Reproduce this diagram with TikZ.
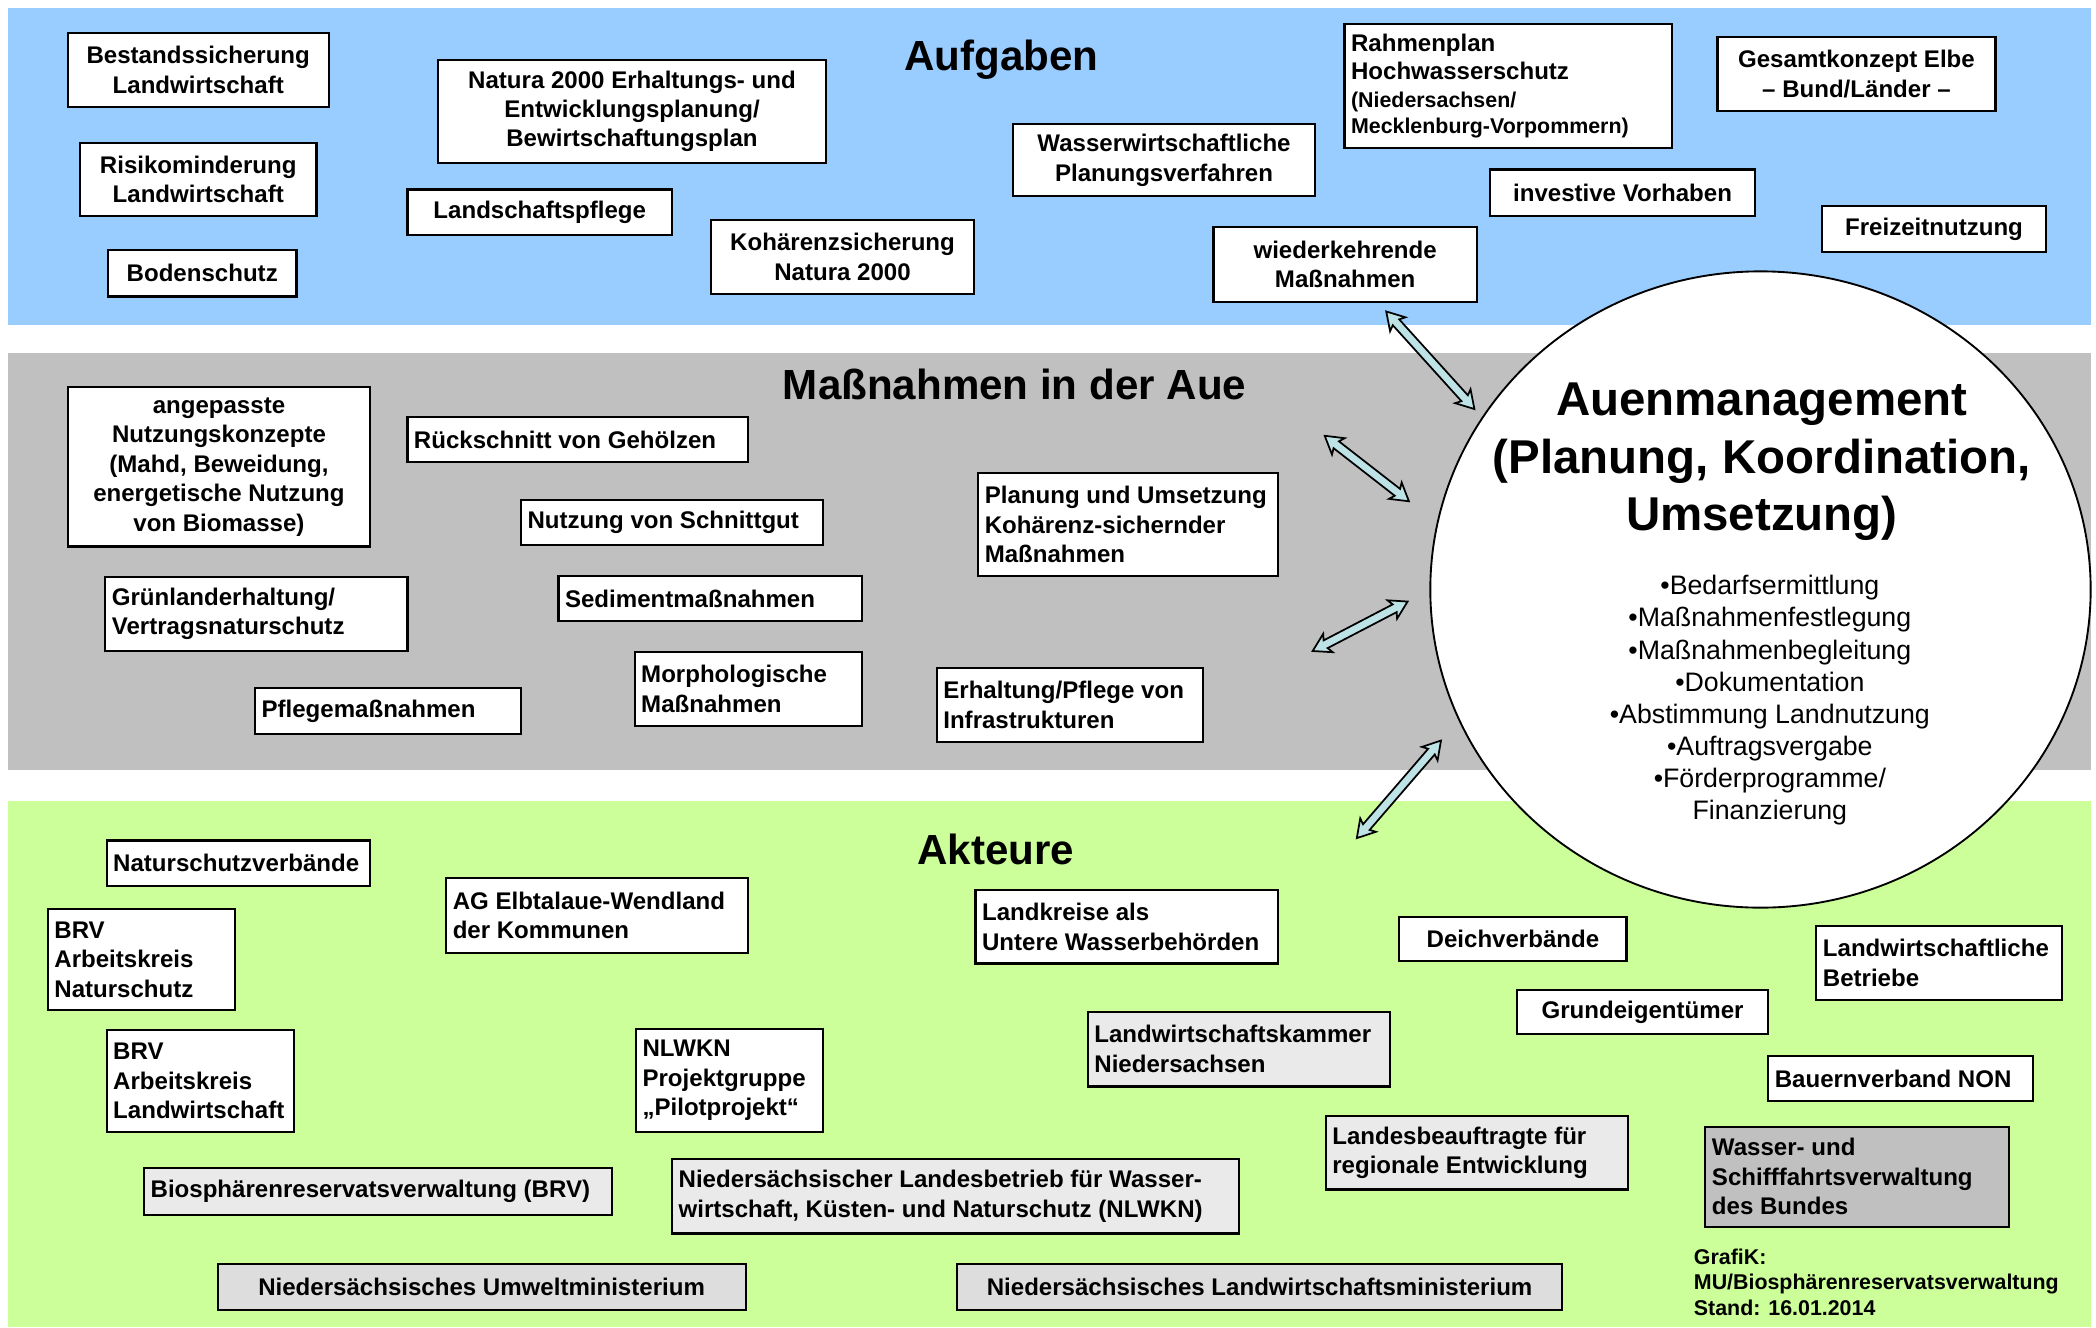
\documentclass[tikz,border=0pt]{standalone}
\usepackage{fontspec}
\setmainfont{Liberation Sans}
\usetikzlibrary{shapes.geometric,shapes.arrows,calc}
\definecolor{bandblue}{RGB}{153,204,255}
\definecolor{bandgray}{RGB}{192,192,192}
\definecolor{bandgreen}{RGB}{204,255,153}
\definecolor{boxlight}{RGB}{234,234,234}
\definecolor{boxmid}{RGB}{221,221,221}
\definecolor{boxdark}{RGB}{192,192,192}
\definecolor{arrowfill}{RGB}{189,227,230}
\tikzset{
  boxw/.style={draw=black, line width=1.6pt, fill=white, inner sep=0pt},
  boxl/.style={boxw, fill=boxlight},
  boxm/.style={boxw, fill=boxmid},
  boxd/.style={boxw, fill=boxdark},
  btxt/.style={font=\bfseries\fontsize{18}{22}\selectfont, inner sep=0pt},
  bandtitle/.style={font=\bfseries\fontsize{31.5}{38}\selectfont, inner sep=0pt, anchor=base},
  amtitle/.style={font=\bfseries\fontsize{35.5}{43}\selectfont, inner sep=0pt, anchor=base},
  amitem/.style={font=\fontsize{20}{24}\selectfont, inner sep=0pt, anchor=base},
  credit/.style={font=\bfseries\fontsize{16}{19}\selectfont, inner sep=0pt, anchor=base west},
  dblarrow/.style={double arrow, draw=black, fill=arrowfill, line width=1.3pt,
    inner xsep=0pt, inner ysep=2.6pt, minimum width=0pt,
    double arrow head extend=4.5pt, double arrow tip angle=62,
    double arrow head indent=2pt},
}
% centered box
\newcommand\bxc[7]{%
  \node[#6, btxt, align=center, minimum width={(#4-#2)*1pt}, minimum height={(#5-#3)*1pt}, anchor=north west] (#1) at (#2,#3) {#7};}
% left-aligned box
\newcommand\bxl[7]{%
  \node[#6, minimum width={(#4-#2)*1pt}, minimum height={(#5-#3)*1pt}, anchor=north west] (#1) at (#2,#3) {};
  \node[btxt, align=left, anchor=west] (#1t) at ([xshift=5.5pt]#1.west) {#7};}
\newcommand\dblarr[3]{%
  \path let \p1=($(#3)-(#2)$), \n1={atan2(\y1,\x1)}, \n2={veclen(\x1,\y1)} in
    node[dblarrow, rotate=\n1, minimum height=\n2] (#1) at ($(#2)!0.5!(#3)$) {};}
\begin{document}
\begin{tikzpicture}[x=1pt,y=-1pt]
\useasboundingbox (0,0) rectangle (1568,993);
% bands
\fill[bandblue] (6,6) rectangle (1564,243);
\fill[bandgray] (6,264) rectangle (1564,576);
\fill[bandgreen] (6,599) rectangle (1564,993);
% titles
\node[bandtitle] (tAuf) at (749,53) {Aufgaben};
\node[bandtitle] (tMas) at (759,299) {Maßnahmen in der Aue};
\node[bandtitle] (tAkt) at (745,647) {Akteure};
% Aufgaben
\bxc{b1}{50}{24}{245}{79}{boxw}{Bestandssicherung\\Landwirtschaft}
\bxc{b2}{59}{106}{236}{161}{boxw}{Risikominderung\\Landwirtschaft}
\bxc{b3}{80}{186}{221}{221}{boxw}{Bodenschutz}
\bxc{b4}{327}{44}{617}{121}{boxw}{Natura 2000 Erhaltungs- und\\Entwicklungsplanung/\\Bewirtschaftungsplan}
\bxc{b5}{304}{141}{502}{175}{boxw}{Landschaftspflege}
\bxc{b6}{531}{164}{728}{219}{boxw}{Kohärenzsicherung\\Natura 2000}
\bxc{b7}{757}{92}{983}{146}{boxw}{Wasserwirtschaftliche\\Planungsverfahren}
\bxl{b8}{1005}{17}{1250}{110}{boxw}{Rahmenplan\\[-1pt]Hochwasserschutz\\[-1pt]{\fontsize{16}{19}\selectfont(Niedersachsen/}\\[-3pt]{\fontsize{16}{19}\selectfont Mecklenburg-Vorpommern)}}
\bxc{b9}{1284}{27}{1492}{82}{boxw}{Gesamtkonzept Elbe\\– Bund/Länder –}
\bxc{b10}{1114}{126}{1312}{161}{boxw}{investive Vorhaben}
\bxc{b11}{1362}{153}{1530}{188}{boxw}{Freizeitnutzung}
\bxc{b12}{907}{169}{1104}{225}{boxw}{wiederkehrende\\Maßnahmen}
% Massnahmen
\bxc{g1}{50}{289}{276}{408}{boxw}{angepasste\\Nutzungskonzepte\\(Mahd, Beweidung,\\energetische Nutzung\\von Biomasse)}
\bxl{g2}{304}{311}{559}{345}{boxw}{Rückschnitt von Gehölzen}
\bxl{g3}{389}{373}{615}{407}{boxw}{Nutzung von Schnittgut}
\bxl{g4}{78}{431}{304}{486}{boxw}{Grünlanderhaltung/\\Vertragsnaturschutz}
\bxl{g5}{417}{430}{644}{464}{boxw}{Sedimentmaßnahmen}
\bxl{g6}{190}{514}{389}{548}{boxw}{Pflegemaßnahmen}
\bxl{g7}{474}{487}{644}{542}{boxw}{Morphologische\\Maßnahmen}
\bxl{g8}{731}{353}{955}{430}{boxw}{Planung und Umsetzung\\Kohärenz-sichernder\\Maßnahmen}
\bxl{g9}{700}{499}{899}{554}{boxw}{Erhaltung/Pflege von\\Infrastrukturen}
% Akteure
\bxl{k1}{79}{628}{276}{662}{boxw}{Naturschutzverbände}
\bxl{k2}{35}{679}{175}{755}{boxw}{BRV\\Arbeitskreis\\Naturschutz}
\bxl{k3}{333}{656}{559}{712}{boxw}{AG Elbtalaue-Wendland\\der Kommunen}
\bxl{k4}{79}{770}{219}{846}{boxw}{BRV\\Arbeitskreis\\Landwirtschaft}
\bxl{k5}{475}{769}{615}{846}{boxw}{NLWKN\\Projektgruppe\\„Pilotprojekt“}
\bxl{k6}{107}{873}{457}{908}{boxl}{Biosphärenreservatsverwaltung (BRV)}
\bxl{k7}{502}{866}{926}{922}{boxl}{Niedersächsischer Landesbetrieb für Wasser-\\wirtschaft, Küsten- und Naturschutz (NLWKN)}
\bxc{k8}{162}{945}{557}{979}{boxm}{Niedersächsisches Umweltministerium}
\bxc{k9}{715}{945}{1168}{979}{boxm}{Niedersächsisches Landwirtschaftsministerium}
\bxl{k10}{729}{665}{955}{720}{boxw}{Landkreise als\\Untere Wasserbehörden}
\bxl{k11}{813}{756}{1039}{812}{boxl}{Landwirtschaftskammer\\Niedersachsen}
\bxc{k12}{1046}{685}{1216}{718}{boxw}{Deichverbände}
\bxc{k13}{1134}{740}{1322}{773}{boxw}{Grundeigentümer}
\bxl{k14}{1358}{692}{1542}{747}{boxw}{Landwirtschaftliche\\Betriebe}
\bxl{k15}{1322}{789}{1520}{823}{boxw}{Bauernverband NON}
\bxl{k16}{991}{834}{1217}{889}{boxl}{Landesbeauftragte für\\regionale Entwicklung}
\bxl{k17}{1275}{842}{1502}{917}{boxd}{Wasser- und\\Schifffahrtsverwaltung\\des Bundes}
\node[credit] (cr1) at (1267,946) {GrafiK:};
\node[credit] (cr2) at (1267,965) {MU/Biosphärenreservatsverwaltung};
\node[credit] (cr3) at (1267,984) {Stand: 16.01.2014};
% Auenmanagement
\node[ellipse, draw=black, fill=white, line width=1.4pt, inner sep=0pt,
      minimum width=494pt, minimum height=476pt] (am) at (1317,441) {};
\node[amtitle] (am1) at (1318,311) {Auenmanagement};
\node[amtitle] (am2) at (1318,354) {(Planung, Koordination,};
\node[amtitle] (am3) at (1318,397) {Umsetzung)};
\foreach \t [count=\i] in {•Bedarfsermittlung,•Maßnahmenfestlegung,•Maßnahmenbegleitung,•Dokumentation,•Abstimmung Landnutzung,•Auftragsvergabe,•Förderprogramme/,Finanzierung}
  \node[amitem] (bl\i) at (1324,{445+24*(\i-1)}) {\t};
% arrows
\coordinate (a1s) at (1037,233); \coordinate (a1e) at (1103,306);
\coordinate (a2s) at (991,326);  \coordinate (a2e) at (1054,375);
\coordinate (a3s) at (982,487);  \coordinate (a3e) at (1053,450);
\coordinate (a4s) at (1015,627); \coordinate (a4e) at (1078,554);
\dblarr{ar1}{a1s}{a1e}
\dblarr{ar2}{a2s}{a2e}
\dblarr{ar3}{a3s}{a3e}
\dblarr{ar4}{a4s}{a4e}
\end{tikzpicture}
\end{document}
